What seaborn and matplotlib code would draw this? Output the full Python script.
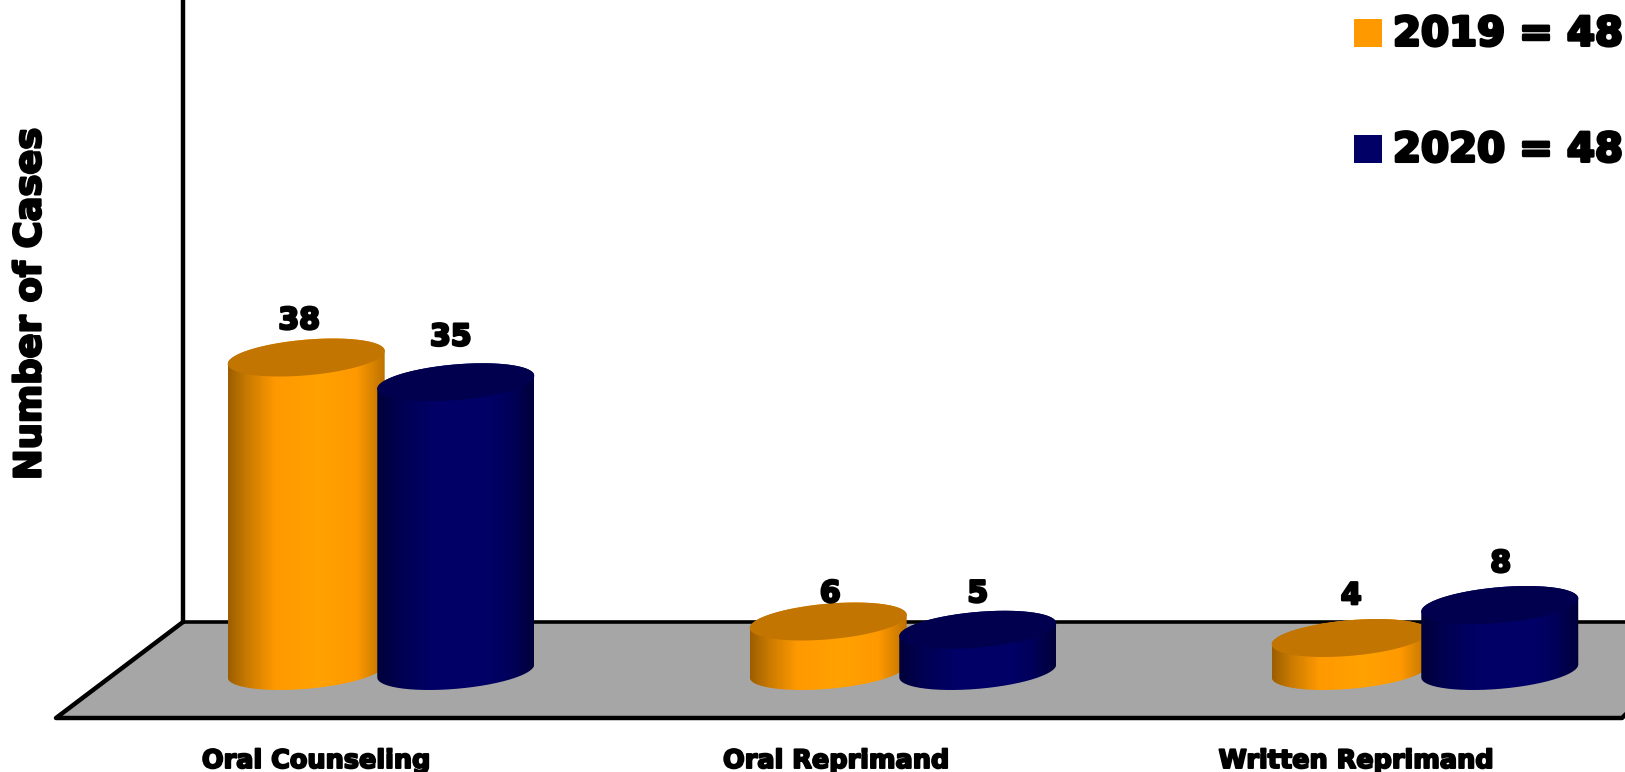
import matplotlib
matplotlib.use("Agg")
import matplotlib.pyplot as plt
import matplotlib.patheffects as pe
from matplotlib.colors import LinearSegmentedColormap
from matplotlib.patches import PathPatch, Polygon, Rectangle
from matplotlib.path import Path
import numpy as np
import pandas as pd
import seaborn as sns

categories = ["Oral Counseling", "Oral Reprimand", "Written Reprimand"]
years = ["2019", "2020"]
cases_2019 = [38, 6, 4]
cases_2020 = [35, 5, 8]
year_totals = [48, 48]

W, H = 1625, 772
FONT = "DejaVu Sans"

sns.set_theme(style="white")
plt.rcParams["font.family"] = [FONT]

df = pd.DataFrame({
    "category": categories * 2,
    "year": [years[0]] * 3 + [years[1]] * 3,
    "cases": cases_2019 + cases_2020,
})

fig = plt.figure(figsize=(W / 100, H / 100), dpi=100, facecolor="white")
ax = fig.add_axes([0, 0, 1, 1])

face_colors = {"2019": "#FF9900", "2020": "#000066"}
sns.barplot(data=df, x="category", y="cases", hue="year", order=categories,
            hue_order=years, palette=face_colors, width=0.573, gap=0,
            legend=False, ax=ax)

# Axis scale: one category step and one case, expressed in figure pixels.
STEP_PX, CASE_PX = 522.0, 8.25
CENTER0_PX, BASE_PX = 381.0, 671.0
xlim = (-CENTER0_PX / STEP_PX, (W - CENTER0_PX) / STEP_PX)
ylim = ((BASE_PX - H) / CASE_PX, BASE_PX / CASE_PX)


def frac(x, y):
    return x / W, 1 - y / H


def wall_floor():
    floor = [frac(56, 718), frac(183, 622), frac(1650, 622), frac(1650, 692), frac(1622, 718)]
    ax.add_patch(Polygon(floor, closed=True, transform=ax.transAxes, fc="#A6A6A6",
                         ec="none", zorder=1))
    for pts, lw in (([(183, -5), (183, 622)], 3.2),
                    ([(183, 622), (1650, 622)], 2.6),
                    ([(183, 622), (56, 718), (1622, 718), (1630, 710)], 3.2)):
        xy = np.array([frac(*p) for p in pts])
        ax.plot(xy[:, 0], xy[:, 1], transform=ax.transAxes, color="black", lw=lw,
                solid_joinstyle="round", solid_capstyle="round", zorder=2)


wall_floor()

half_w = 78.5 / STEP_PX
tilt = 6.5 / CASE_PX
minor = 17.85 / CASE_PX
t_low = np.linspace(np.pi, 2 * np.pi, 90)
t_high = np.linspace(0, np.pi, 90)
t_full = np.linspace(0, 2 * np.pi, 180)


def rim(cx, level, t):
    return np.column_stack([cx + half_w * np.cos(t),
                            level + tilt * np.cos(t) + minor * np.sin(t)])


ramps = {
    "2019": LinearSegmentedColormap.from_list("amber", [
        (0.0, "#9C5E00"), (0.12, "#C97A00"), (0.3, "#FF9900"), (0.58, "#FFA200"),
        (0.82, "#FF9900"), (1.0, "#BC7200")]),
    "2020": LinearSegmentedColormap.from_list("navy", [
        (0.0, "#00003A"), (0.15, "#000052"), (0.35, "#000066"), (0.7, "#000068"),
        (0.85, "#00005A"), (1.0, "#00003A")]),
}
lid_colors = {"2019": "#C27500", "2020": "#00004F"}
gradient = np.linspace(0, 1, 256)[None, :]

# Extra height of each value label above its cylinder lid, in cases.
label_lift = {"2019": [4.85, 3.75, 5.5], "2020": [5.85, 4.75, 5.4]}
label_shift = {"2019": [-7, 2, 1], "2020": [-5, 0, 1]}

bars = list(ax.patches)
for i, year in enumerate(years):
    for j in range(len(categories)):
        bar = bars[i * len(categories) + j]
        cx = bar.get_x() + bar.get_width() / 2
        value = bar.get_height()
        bar.set_visible(False)
        z = 3 + i * 3
        outline = np.vstack([rim(cx, 0, t_low), rim(cx, value, t_high)])
        clip = PathPatch(Path(outline), transform=ax.transData, fc="none", ec="none")
        ax.add_patch(clip)
        img = ax.imshow(gradient, cmap=ramps[year], vmin=0, vmax=1, aspect="auto",
                        interpolation="bilinear", zorder=z,
                        extent=(cx - half_w, cx + half_w, -minor * 2, value + minor * 2))
        img.set_clip_path(clip)
        ax.add_patch(Polygon(rim(cx, value, t_full), closed=True, fc=lid_colors[year],
                             ec="none", zorder=z + 1))
        ax.text(cx + label_shift[year][j] / STEP_PX, value + label_lift[year][j],
                f"{value:.0f}", ha="center", va="center_baseline",
                fontsize=21.5, fontweight="bold", color="black", zorder=10,
                path_effects=[pe.withStroke(linewidth=1.8, foreground="black")])

ax.set_xlim(*xlim)
ax.set_ylim(*ylim)
ax.axis("off")

heavy = lambda w: [pe.withStroke(linewidth=w, foreground="black")]

for j, name in enumerate(categories):
    fx, fy = frac(316 + 520 * j, 758)
    ax.text(fx, fy, name, transform=ax.transAxes, ha="center", va="center_baseline",
            fontsize=18.4, fontweight="bold", color="black", path_effects=heavy(1.4))

fx, fy = frac(30, 304)
ax.text(fx, fy, "Number of Cases", transform=ax.transAxes, rotation=90, ha="center",
        va="center", fontsize=26.5, fontweight="bold", color="black",
        path_effects=heavy(1.7))

for year, total, sq_top, text_y in zip(years, year_totals, (19, 135), (30, 146)):
    x0, y1 = frac(1354, sq_top + 27.5)
    ax.add_patch(Rectangle((x0, y1), 28 / W, 27.5 / H, transform=ax.transAxes,
                           fc=face_colors[year], ec="none", zorder=6))
    fx, fy = frac(1393, text_y)
    ax.text(fx, fy, f"{year} = {total}", transform=ax.transAxes, ha="left",
            va="center_baseline", fontsize=29, fontweight="bold", color="black",
            path_effects=heavy(2.2))

fig.savefig("out.png", dpi=100, facecolor="white")
